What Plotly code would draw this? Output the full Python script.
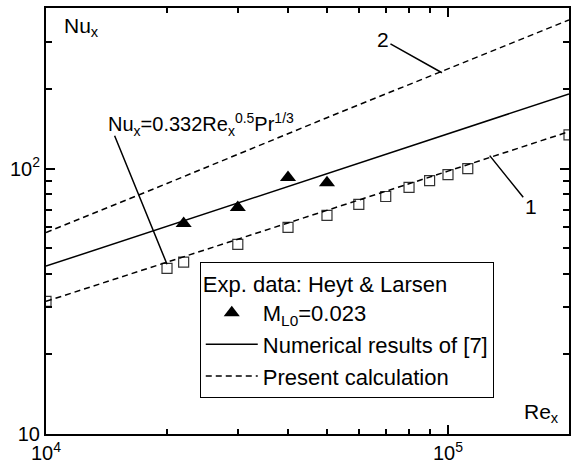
import plotly.graph_objects as go
import math

# ---- data ----
re_line = [1e4, 2e4, 5e4, 1e5, 2e5]
nu_numerical = [42.9, 60.7, 96.0, 135.7, 191.0]       # solid, Numerical results of [7]
nu_present_1 = [31.6, 44.4, 69.3, 97.8, 137.8]        # dashed, curve 1
nu_present_2 = [57.4, 87.9, 155.5, 237.8, 363.0]      # dashed, curve 2

re_squares = [1e4, 2e4, 2.2e4, 3e4, 4e4, 5e4, 6e4, 7e4, 8e4, 9e4, 1e5, 1.12e5, 2e5]
nu_squares = [31.6, 42.1, 44.4, 51.8, 60.0, 66.6, 73.3, 78.5, 84.9, 90.1, 94.9, 100.0, 134.0]

re_exp = [2.2e4, 3e4, 4e4, 5e4]
nu_exp = [62.1, 71.3, 92.5, 88.5]

x_ticks = [1e4, 1e5]
x_ticktext = ["10<sup>4</sup>", "10<sup>5</sup>"]
x_minor = [2e4, 3e4, 4e4, 5e4, 6e4, 7e4, 8e4, 9e4, 2e5]
y_ticks = [10, 100]
y_ticktext = ["10", "10<sup>2</sup>"]
y_minor = [20, 30, 40, 50, 60, 70, 80, 90, 200, 300, 400]

FONT = "Liberation Sans, Arial, sans-serif"
DASH = "6px,4px"
TXT = 21
LEG = 22

fig = go.Figure()

fig.add_trace(go.Scatter(
    x=re_line, y=nu_present_2, mode="lines",
    line=dict(color="black", width=1.5, dash=DASH), showlegend=False))
fig.add_trace(go.Scatter(
    x=re_squares, y=nu_squares, mode="markers",
    marker=dict(symbol="square-open", size=10, color="#333333", line=dict(width=1.2)),
    showlegend=False))
fig.add_trace(go.Scatter(
    x=re_exp, y=nu_exp, mode="markers", name="M<sub>L0</sub>=0.023",
    marker=dict(symbol="triangle-up", size=14, color="black")))
fig.add_trace(go.Scatter(
    x=re_line, y=nu_numerical, mode="lines", name="Numerical results of [7]",
    line=dict(color="black", width=1.5)))
fig.add_trace(go.Scatter(
    x=re_line, y=nu_present_1, mode="lines", name="Present calculation",
    line=dict(color="black", width=1.5, dash=DASH)))

axis_common = dict(
    showline=True, linecolor="black", linewidth=2, mirror="ticks",
    ticks="inside", ticklen=9, tickwidth=1.5, tickcolor="black",
    showgrid=False, zeroline=False,
    tickfont=dict(family=FONT, size=20, color="black"),
)

fig.update_xaxes(
    type="log", range=[4, math.log10(2e5)],
    tickmode="array", tickvals=x_ticks, ticktext=x_ticktext,
    minor=dict(tickmode="array", tickvals=x_minor, ticks="inside", ticklen=5,
               tickwidth=1.5, tickcolor="black", showgrid=False),
    **axis_common)
fig.update_yaxes(
    type="log", range=[1, 2.605],
    tickmode="array", tickvals=y_ticks, ticktext=y_ticktext,
    minor=dict(tickmode="array", tickvals=y_minor, ticks="inside", ticklen=6,
               tickwidth=1.5, tickcolor="black", showgrid=False),
    **axis_common)

annotations = [
    dict(text="Nu<sub>x</sub>", xref="paper", yref="paper", x=0.03, y=0.99,
         xanchor="left", yanchor="top", showarrow=False),
    dict(text="Re<sub>x</sub>", xref="paper", yref="paper", x=0.91, y=0.085,
         xanchor="left", yanchor="top", showarrow=False),
    dict(text="Nu<sub>x</sub>=0.332Re<sub>x</sub><sup>0.5</sup>Pr<sup>1/3</sup>",
         xref="paper", yref="paper", x=0.114, y=0.765, font=dict(size=20),
         xanchor="left", yanchor="top", showarrow=False),
    # leader for the formula
    dict(text="", x=math.log10(2e4), y=math.log10(43.6), ax=-53, ay=-130,
         showarrow=True, arrowhead=0, arrowwidth=1.5, arrowcolor="black", standoff=0),
    # curve labels
    dict(text="2", x=math.log10(9.66e4), y=math.log10(229.6), ax=-59, ay=-33,
         showarrow=True, arrowhead=0, arrowwidth=1.5, arrowcolor="black", standoff=0),
    dict(text="1", x=math.log10(1.27e5), y=math.log10(111.9), ax=41, ay=51,
         showarrow=True, arrowhead=0, arrowwidth=1.5, arrowcolor="black", standoff=0),
]

fig.update_layout(
    width=577, height=470,
    margin=dict(l=46, r=6, t=8, b=35),
    paper_bgcolor="white", plot_bgcolor="white",
    font=dict(family=FONT, size=TXT, color="black"),
    annotations=annotations,
    legend=dict(
        x=0.294, y=0.403, xanchor="left", yanchor="top",
        bordercolor="black", borderwidth=1, bgcolor="white",
        font=dict(family=FONT, size=LEG, color="black"),
        title=dict(text="Exp. data: Heyt & Larsen", font=dict(family=FONT, size=LEG)),
        itemwidth=52, tracegroupgap=0,
    ),
)

fig.write_html("out.html")
